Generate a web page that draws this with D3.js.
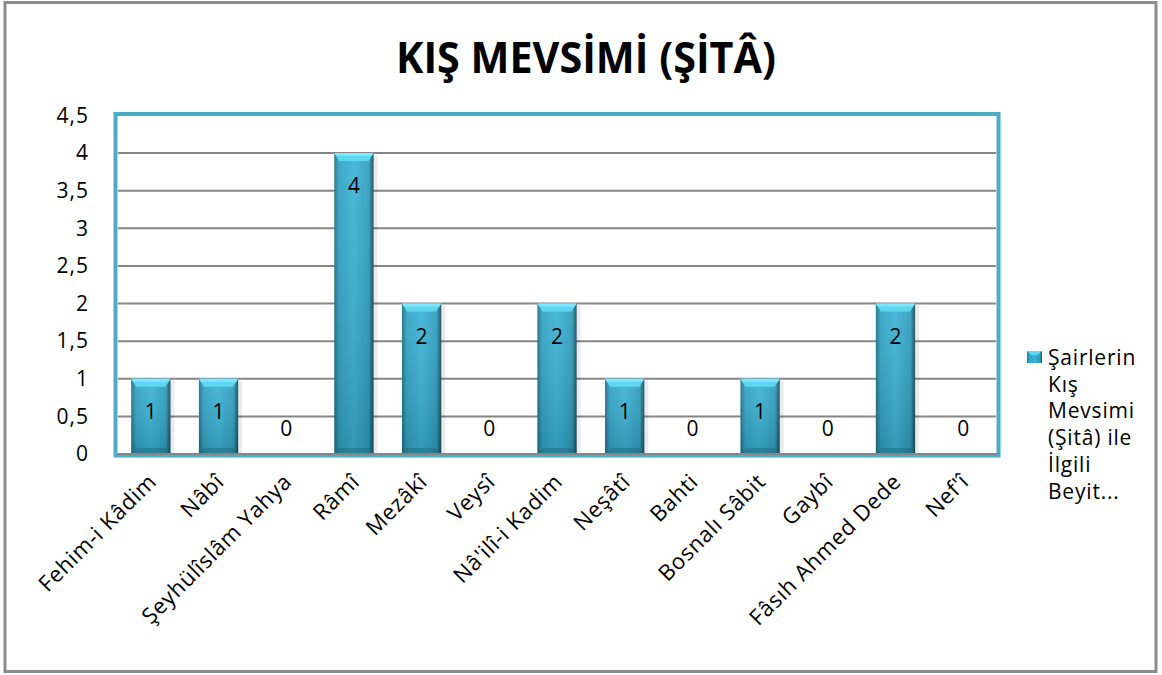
<!DOCTYPE html>
<html>
<head>
<meta charset="utf-8">
<script src="https://cdn.jsdelivr.net/npm/d3@7"></script>
<style>
  body { margin: 0; background: #fff; }
  text { font-family: "Open Sans", "Noto Sans", sans-serif; }
</style>
</head>
<body>
<div id="chart"></div>
<script>
// chart data
const poets = ['Fehim-i Kâdim', 'Nâbî', 'Şeyhülîslâm Yahya', 'Râmî', 'Mezâkî', 'Veysî',
  "Nâ'ilî-i Kadim", 'Neşâtî', 'Bahti', 'Bosnalı Sâbit', 'Gaybî', 'Fâsıh Ahmed Dede', "Nef'î"];
const counts = [1, 1, 0, 4, 2, 0, 2, 1, 0, 1, 0, 2, 0];
const yTicks = [0, 0.5, 1, 1.5, 2, 2.5, 3, 3.5, 4, 4.5];
const titleText = 'KIŞ MEVSİMİ (ŞİTÂ)';
const legendLines = ['Şairlerin', 'Kış', 'Mevsimi', '(Şitâ) ile', 'İlgili', 'Beyit...'];

const W = 1162, H = 675;
const plot = { left: 117, right: 997, top: 115.5, bottom: 454 };

const svg = d3.select('#chart').append('svg')
  .attr('width', W).attr('height', H);

// gradients for the bevelled bars
const defs = svg.append('defs');
const side = defs.append('linearGradient').attr('id', 'barSide')
  .attr('x1', 0).attr('x2', 1).attr('y1', 0).attr('y2', 0);
side.append('stop').attr('offset', '0%').attr('stop-color', '#1f6f86');
side.append('stop').attr('offset', '12%').attr('stop-color', '#31a2c3');
side.append('stop').attr('offset', '50%').attr('stop-color', '#3ab3d6');
side.append('stop').attr('offset', '88%').attr('stop-color', '#2f9dbd');
side.append('stop').attr('offset', '100%').attr('stop-color', '#144a5a');
const vert = defs.append('linearGradient').attr('id', 'barShade')
  .attr('x1', 0).attr('x2', 0).attr('y1', 0).attr('y2', 1);
vert.append('stop').attr('offset', '0%').attr('stop-color', '#fff').attr('stop-opacity', 0.08);
vert.append('stop').attr('offset', '100%').attr('stop-color', '#000').attr('stop-opacity', 0.15);

// outer frame
svg.append('rect')
  .attr('x', 5).attr('y', 2.5).attr('width', 1151).attr('height', 669)
  .attr('fill', '#fff').attr('stroke', '#8c8c8c').attr('stroke-width', 3);

svg.append('text')
  .attr('x', 586).attr('y', 73)
  .attr('text-anchor', 'middle')
  .attr('font-size', 43).attr('font-weight', 'bold')
  .attr('textLength', 380).attr('lengthAdjust', 'spacingAndGlyphs')
  .attr('fill', '#000')
  .text(titleText);

const x = d3.scaleBand().domain(poets).range([plot.left, plot.right]).paddingInner(0.42).paddingOuter(0.21);
const y = d3.scaleLinear().domain([0, 4.5]).range([plot.bottom, plot.top]);

// plot area border
svg.append('rect')
  .attr('x', plot.left - 1.5).attr('y', plot.top - 1.5)
  .attr('width', plot.right - plot.left + 3).attr('height', plot.bottom - plot.top + 3)
  .attr('fill', '#fff').attr('stroke', '#4bacc6').attr('stroke-width', 4);

// gridlines
svg.append('g')
  .selectAll('line')
  .data(yTicks.filter(d => d < 4.5))
  .join('line')
  .attr('x1', plot.left + 1).attr('x2', plot.right - 1)
  .attr('y1', d => y(d)).attr('y2', d => y(d))
  .attr('stroke', '#868686').attr('stroke-width', 2);

// y axis labels
const yAxis = d3.axisLeft(y).tickValues(yTicks).tickSize(0).tickPadding(0)
  .tickFormat(d => String(d).replace('.', ','));
svg.append('g')
  .attr('transform', `translate(89,0)`)
  .call(yAxis)
  .call(g => g.select('.domain').remove())
  .selectAll('text')
  .attr('font-size', 21).attr('fill', '#000')
  .attr('letter-spacing', 1)
  .attr('font-family', '"Open Sans", sans-serif');

// bars
const bars = svg.append('g').selectAll('g')
  .data(counts.map((v, i) => ({ name: poets[i], value: v })))
  .join('g');

bars.filter(d => d.value > 0).each(function(d) {
  const g = d3.select(this);
  const bx = x(d.name), bw = x.bandwidth(), top = y(d.value), h = y(0) - top;
  // drop shadow
  g.append('rect').attr('x', bx + 2).attr('y', top + 2).attr('width', bw + 2).attr('height', h - 2)
    .attr('fill', '#000').attr('opacity', 0.08);
  g.append('rect').attr('x', bx).attr('y', top).attr('width', bw).attr('height', h)
    .attr('fill', 'url(#barSide)');
  g.append('rect').attr('x', bx).attr('y', top).attr('width', bw).attr('height', h)
    .attr('fill', 'url(#barShade)');
  // top bevel
  g.append('path')
    .attr('d', `M${bx},${top}L${bx + bw},${top}L${bx + bw - 5},${top + 8}L${bx + 5},${top + 8}Z`)
    .attr('fill', '#5fd6f2');
  g.append('path')
    .attr('d', `M${bx},${top}L${bx + bw},${top}L${bx + bw - 2},${top + 3}L${bx + 2},${top + 3}Z`)
    .attr('fill', '#7fe6fb');
  // bottom bevel
  g.append('path')
    .attr('d', `M${bx},${y(0)}L${bx + bw},${y(0)}L${bx + bw - 5},${y(0) - 6}L${bx + 5},${y(0) - 6}Z`)
    .attr('fill', '#1d6c82').attr('opacity', 0.5);
});

// data labels
bars.append('text')
  .attr('x', d => x(d.name) + x.bandwidth() / 2)
  .attr('y', d => d.value > 0 ? y(d.value) + 40 : y(0) - 18)
  .attr('text-anchor', 'middle')
  .attr('font-size', 21).attr('fill', '#000')
  .text(d => d.value);

// redraw baseline over the bars
svg.append('line')
  .attr('x1', plot.left).attr('x2', plot.right)
  .attr('y1', y(0)).attr('y2', y(0))
  .attr('stroke', '#868686').attr('stroke-width', 2);

// x axis labels, rotated
svg.append('g')
  .selectAll('text')
  .data(poets)
  .join('text')
  .attr('transform', d => `translate(${x(d) + x.bandwidth() / 2 + 7},${plot.bottom + 29}) rotate(-45)`)
  .attr('text-anchor', 'end')
  .attr('font-size', 22).attr('letter-spacing', 0.7).attr('fill', '#000')
  .text(d => d);

// legend
const legend = svg.append('g').attr('transform', 'translate(1027,351)');
legend.append('rect').attr('x', 0).attr('y', 0).attr('width', 15).attr('height', 12)
  .attr('fill', 'url(#barSide)');
legend.append('path').attr('d', 'M0,0L15,0L11,4L4,4Z').attr('fill', '#5fd6f2');
legend.selectAll('text.lg')
  .data(legendLines)
  .join('text')
  .attr('class', 'lg')
  .attr('x', 21)
  .attr('y', (d, i) => 14 + i * 26.7)
  .attr('font-size', 21).attr('letter-spacing', 0.8).attr('fill', '#000')
  .text(d => d);
</script>
</body>
</html>
